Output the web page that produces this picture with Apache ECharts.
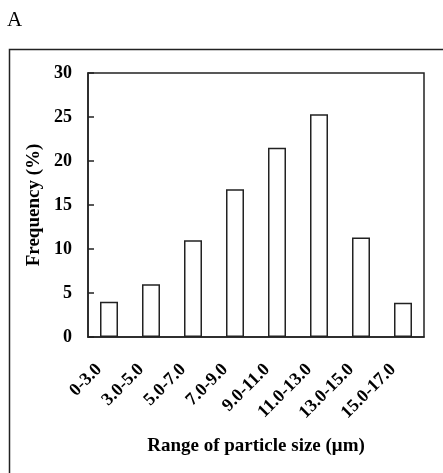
<!DOCTYPE html>
<html>
<head>
<meta charset="utf-8">
<script src="https://cdn.jsdelivr.net/npm/echarts@6/dist/echarts.min.js"></script>
<style>
html,body{margin:0;padding:0;background:#fff;}
#chart{width:443px;height:473px;}
</style>
</head>
<body>
<div id="chart"></div>
<script>
const categories = ['0-3.0','3.0-5.0','5.0-7.0','7.0-9.0','9.0-11.0','11.0-13.0','13.0-15.0','15.0-17.0'];
const frequency = [4.0, 6.0, 11.0, 16.8, 21.5, 25.3, 11.3, 3.9];
const yTicks = {min: 0, max: 30, interval: 5};

const font = '"Liberation Serif", "Times New Roman", serif';
const chart = echarts.init(document.getElementById('chart'), null, {renderer: 'canvas'});
chart.setOption({
  animation: false,
  backgroundColor: '#fff',
  graphic: [
    {type: 'text', left: 7, top: 10, style: {text: 'A', font: '21px ' + font, fill: '#000'}},
    {type: 'rect', left: 7, top: 47, shape: {x: 0, y: 0, width: 520, height: 520},
     style: {fill: 'none', stroke: '#222', lineWidth: 1.5}, silent: true}
  ],
  grid: {left: 88, top: 73, width: 336, height: 264, show: true, borderColor: '#222', borderWidth: 1.5, backgroundColor: 'transparent'},
  xAxis: {
    type: 'category',
    data: categories,
    boundaryGap: true,
    axisLine: {lineStyle: {color: '#222', width: 1.5}},
    axisTick: {inside: true, length: 7, lineStyle: {color: '#222', width: 1.5}},
    axisLabel: {rotate: 45, margin: 20, padding: [0, 14, 0, 0], fontSize: 18, fontWeight: 'bold', fontFamily: font, color: '#000', interval: 0},
    name: 'Range of particle size (μm)',
    nameLocation: 'middle',
    nameGap: 100,
    nameTextStyle: {fontSize: 19, fontWeight: 'bold', fontFamily: font, color: '#000'}
  },
  yAxis: {
    type: 'value',
    min: yTicks.min, max: yTicks.max, interval: yTicks.interval,
    splitLine: {show: false},
    axisLine: {show: true, lineStyle: {color: '#222', width: 1.5}},
    axisTick: {show: true, inside: true, length: 6, lineStyle: {color: '#222', width: 1.5}},
    axisLabel: {margin: 16, fontSize: 18, fontWeight: 'bold', fontFamily: font, color: '#000'},
    name: 'Frequency (%)',
    nameLocation: 'middle',
    nameGap: 43,
    nameTextStyle: {fontSize: 19, fontWeight: 'bold', fontFamily: font, color: '#000'}
  },
  series: [{
    type: 'bar',
    data: frequency,
    barWidth: 18,
    itemStyle: {color: '#fff', borderColor: '#222', borderWidth: 1.5}
  }]
});
</script>
</body>
</html>
